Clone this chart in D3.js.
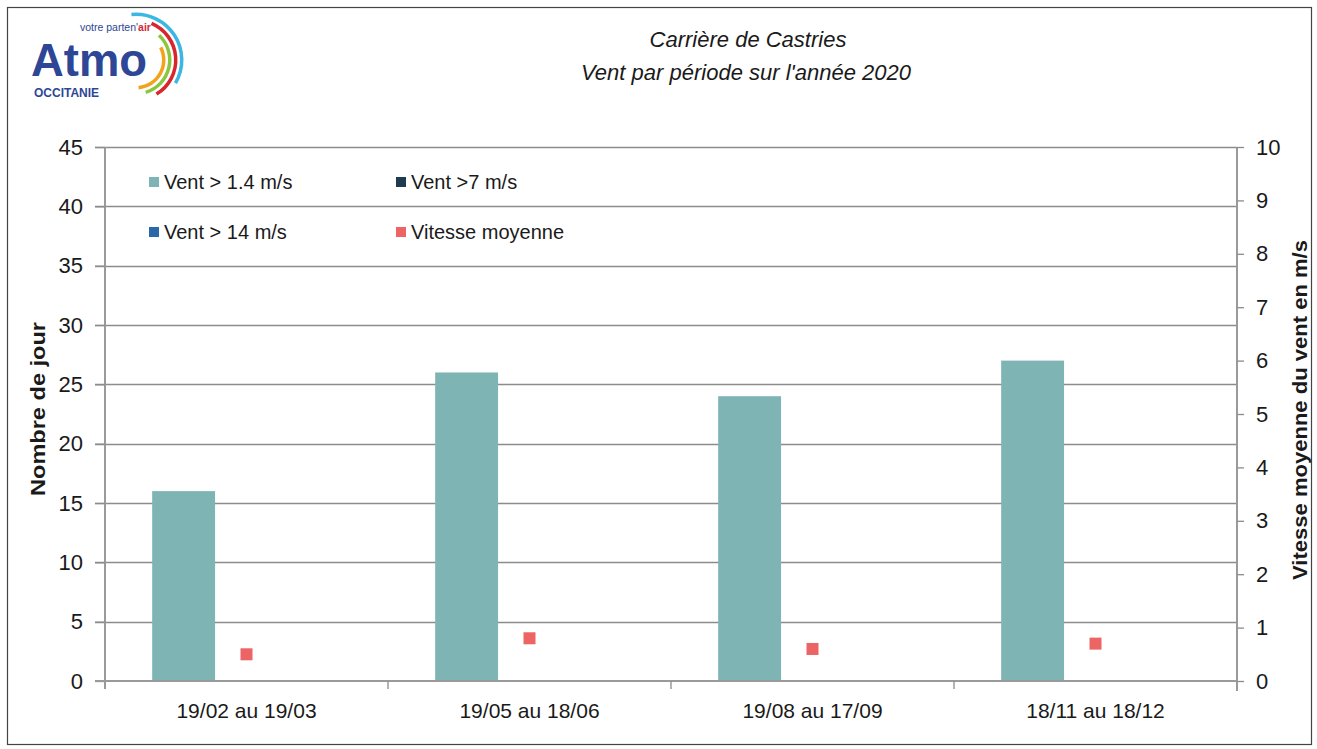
<!DOCTYPE html>
<html>
<head>
<meta charset="utf-8">
<script src="https://cdn.jsdelivr.net/npm/d3@7"></script>
<style>
  body { margin: 0; background: #fff; }
  svg text { font-family: "Liberation Sans", Arial, sans-serif; fill: #1a1a1a; }
</style>
</head>
<body>
<svg id="chart" width="1317" height="749"></svg>
<script>
// data
var periods = ['19/02 au 19/03', '19/05 au 18/06', '19/08 au 17/09', '18/11 au 18/12']
var series = ['Vent > 1.4 m/s', 'Vent >7 m/s', 'Vent > 14 m/s']
var seriesColours = ['#7fb4b5', '#1f3b4f', '#2a69a9']
var vent14 = [16, 26, 24, 27]
var vent7 = [0, 0, 0, 0]
var vent140 = [0, 0, 0, 0]
var vitesse = [0.5, 0.8, 0.6, 0.7]
var leftTicks = [0, 5, 10, 15, 20, 25, 30, 35, 40, 45]
var rightTicks = [0, 1, 2, 3, 4, 5, 6, 7, 8, 9, 10]

var svg = d3.select('#chart')

// outer frame
svg.append('rect')
   .attr('x', 7.5).attr('y', 7.5)
   .attr('width', 1304).attr('height', 737)
   .attr('fill', 'none').attr('stroke', '#444').attr('stroke-width', 1.2)

var plotLeft = 105, plotRight = 1237, plotTop = 147, plotBottom = 681

var x = d3.scaleBand().domain(periods).range([plotLeft, plotRight])
var xSub = d3.scaleBand().domain(series).range([0, x.bandwidth()]).paddingOuter(0.75)
var yL = d3.scaleLinear().domain([0, 45]).range([plotBottom, plotTop])
var yR = d3.scaleLinear().domain([0, 10]).range([plotBottom, plotTop])

// gridlines
svg.append('g').selectAll('line')
   .data(leftTicks.filter(function(d) { return d > 0 }))
   .enter().append('line')
   .attr('x1', plotLeft - 10).attr('x2', plotRight)
   .attr('y1', function(d) { return Math.round(yL(d)) + 0.5 })
   .attr('y2', function(d) { return Math.round(yL(d)) + 0.5 })
   .attr('stroke', '#8c8c8c').attr('stroke-width', 1.3)

// left axis
var axL = svg.append('g').attr('transform', 'translate(' + plotLeft + ',0)')
  .call(d3.axisLeft(yL).tickValues(leftTicks).tickSize(10).tickPadding(12))
axL.select('.domain').attr('stroke', '#9a9a9a').attr('stroke-width', 2)
   .attr('d', 'M0,' + plotTop + 'V' + (plotBottom + 8))
axL.selectAll('.tick line').attr('stroke', '#8c8c8c').attr('stroke-width', 1.3)
axL.selectAll('.tick text').attr('font-size', 22).attr('fill', '#1a1a1a')
   .style('font-family', '"Liberation Sans", Arial, sans-serif')

// right axis
var axR = svg.append('g').attr('transform', 'translate(' + plotRight + ',0)')
  .call(d3.axisRight(yR).tickValues(rightTicks).tickSize(7).tickPadding(12))
axR.select('.domain').attr('stroke', '#9a9a9a').attr('stroke-width', 2)
   .attr('d', 'M0,' + plotTop + 'V' + (plotBottom + 10))
axR.selectAll('.tick line').attr('stroke', '#8c8c8c').attr('stroke-width', 1.3)
axR.selectAll('.tick text').attr('font-size', 22).attr('fill', '#1a1a1a')
   .style('font-family', '"Liberation Sans", Arial, sans-serif')

// bars
var barData = []
periods.forEach(function(p, i) {
  [vent14, vent7, vent140].forEach(function(vals, j) {
    barData.push({ period: p, serie: series[j], value: vals[i], colour: seriesColours[j] })
  })
})
svg.append('g').selectAll('rect')
   .data(barData.filter(function(d) { return d.value > 0 }))
   .enter().append('rect')
   .attr('x', function(d) { return x(d.period) + xSub(d.serie) })
   .attr('width', xSub.bandwidth())
   .attr('y', function(d) { return yL(d.value) })
   .attr('height', function(d) { return plotBottom - yL(d.value) })
   .attr('fill', function(d) { return d.colour })

// bottom axis
var axB = svg.append('g').attr('transform', 'translate(0,' + plotBottom + ')')
  .call(d3.axisBottom(x).tickSize(0).tickPadding(22))
axB.select('.domain').attr('stroke', '#9a9a9a').attr('stroke-width', 2)
   .attr('d', 'M' + (plotLeft - 10) + ',0H' + plotRight)
axB.selectAll('.tick text').attr('font-size', 21).attr('fill', '#1a1a1a')
   .style('font-family', '"Liberation Sans", Arial, sans-serif')
axB.selectAll('.sep').data(periods.slice(1)).enter().append('line')
   .attr('class', 'sep')
   .attr('x1', function(d) { return x(d) }).attr('x2', function(d) { return x(d) })
   .attr('y1', 0).attr('y2', 8)
   .attr('stroke', '#8c8c8c').attr('stroke-width', 1.3)

// mean speed markers
svg.append('g').selectAll('rect')
   .data(vitesse)
   .enter().append('rect')
   .attr('x', function(d, i) { return x(periods[i]) + x.bandwidth() / 2 - 6 })
   .attr('y', function(d) { return yR(d) - 6 })
   .attr('width', 12).attr('height', 12)
   .attr('fill', '#ec6464')

// axis titles
svg.append('text')
   .attr('transform', 'translate(45,409) rotate(-90)')
   .attr('text-anchor', 'middle')
   .attr('font-size', 21).attr('font-weight', 'bold')
   .attr('textLength', 174).attr('lengthAdjust', 'spacingAndGlyphs')
   .text('Nombre de jour')
svg.append('text')
   .attr('transform', 'translate(1307,410) rotate(-90)')
   .attr('text-anchor', 'middle')
   .attr('font-size', 21).attr('font-weight', 'bold')
   .attr('textLength', 340).attr('lengthAdjust', 'spacingAndGlyphs')
   .text('Vitesse moyenne du vent en m/s')

// title
svg.append('text').attr('x', 748).attr('y', 47)
   .attr('text-anchor', 'middle').attr('font-size', 22).attr('font-style', 'italic')
   .text('Carrière de Castries')
svg.append('text').attr('x', 746).attr('y', 80)
   .attr('text-anchor', 'middle').attr('font-size', 22).attr('font-style', 'italic')
   .text("Vent par période sur l'année 2020")

// legend
var legendItems = [
  { label: series[0], colour: seriesColours[0], x: 149, y: 182 },
  { label: series[1], colour: seriesColours[1], x: 396, y: 182 },
  { label: series[2], colour: seriesColours[2], x: 149, y: 232 },
  { label: 'Vitesse moyenne', colour: '#ec6464', x: 396, y: 232 }
]
var lg = svg.append('g').selectAll('g').data(legendItems).enter().append('g')
  .attr('transform', function(d) { return 'translate(' + d.x + ',' + d.y + ')' })
lg.append('rect').attr('x', 0).attr('y', -5).attr('width', 10).attr('height', 10)
  .attr('fill', function(d) { return d.colour })
lg.append('text').attr('x', 15).attr('y', 7).attr('font-size', 20)
  .text(function(d) { return d.label })

// logo
var logo = svg.append('g')
var arcs = [
  { r: 46, c: '#3cb7e3', a0: -0.1, a1: 2.1 },
  { r: 40, c: '#d9262e', a0: 0.4, a1: 2.6 },
  { r: 34, c: '#8cc63f', a0: 0.75, a1: 2.85 },
  { r: 28, c: '#f2a31b', a0: 1.1, a1: 3.05 }
]
logo.selectAll('path').data(arcs).enter().append('path')
    .attr('transform', 'translate(136,60)')
    .attr('d', function(d) {
      return d3.arc().innerRadius(d.r - 2).outerRadius(d.r + 1.5).startAngle(d.a0).endAngle(d.a1)()
    })
    .attr('fill', function(d) { return d.c })
logo.append('text').attr('x', 31).attr('y', 76).attr('font-size', 46).attr('font-weight', 'bold')
    .style('fill', '#2d4696').attr('textLength', 116).attr('lengthAdjust', 'spacingAndGlyphs')
    .text('Atmo')
var tag = logo.append('text').attr('x', 80).attr('y', 31).attr('font-size', 10.5)
tag.append('tspan').style('fill', '#2d4696').text("votre parten'")
tag.append('tspan').attr('font-weight', 'bold').style('fill', '#d32a3a').text('air')
logo.append('text').attr('x', 34).attr('y', 97).attr('font-size', 12).attr('font-weight', 'bold')
    .style('fill', '#2d4696').text('OCCITANIE')
</script>
</body>
</html>
